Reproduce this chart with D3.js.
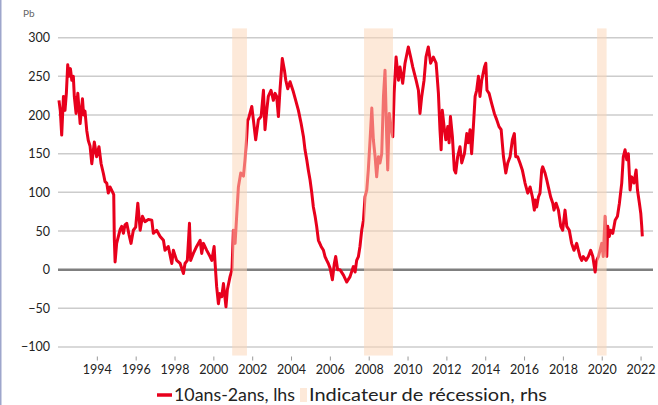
<html>
<head>
<meta charset="utf-8">
<title>10ans-2ans</title>
<script src="https://cdn.jsdelivr.net/npm/d3@7"></script>
<style type="text/css">
	body { margin: 0; background: #ffffff; }
	#chart { width: 658px; height: 405px; overflow: hidden; }
	text { font-family: Lato, "Open Sans", sans-serif; }
</style>
</head>
<body>
<div id="chart"></div>

<script type="text/javascript">

	// Spread 10ans-2ans (pb), dates as decimal years
	var spreadYears = [
		1992.05, 1992.12, 1992.19, 1992.28, 1992.36, 1992.43, 1992.50, 1992.57, 1992.64, 1992.71,
		1992.79, 1992.84, 1992.93, 1993.02, 1993.14, 1993.26, 1993.32, 1993.39, 1993.48, 1993.56,
		1993.65, 1993.74, 1993.87, 1993.99, 1994.11, 1994.22, 1994.34, 1994.42, 1994.51, 1994.59,
		1994.68, 1994.80, 1994.87, 1994.90, 1994.94, 1995.02, 1995.11, 1995.20, 1995.28, 1995.37,
		1995.45, 1995.54, 1995.66, 1995.76, 1995.88, 1996.00, 1996.11, 1996.23, 1996.35, 1996.48,
		1996.65, 1996.83, 1996.91, 1997.08, 1997.26, 1997.43, 1997.51, 1997.68, 1997.86, 1997.94,
		1998.11, 1998.29, 1998.46, 1998.54, 1998.66, 1998.77, 1998.83, 1998.97, 1999.14, 1999.32,
		1999.40, 1999.49, 1999.66, 1999.83, 1999.92, 2000.04, 2000.09, 2000.17, 2000.26, 2000.34,
		2000.43, 2000.52, 2000.65, 2000.72, 2000.86, 2000.96, 2001.03, 2001.12, 2001.20, 2001.29,
		2001.41, 2001.55, 2001.63, 2001.72, 2001.77, 2001.80, 2001.98, 2002.06, 2002.18, 2002.32,
		2002.46, 2002.58, 2002.66, 2002.75, 2002.83, 2002.97, 2003.09, 2003.18, 2003.26, 2003.35,
		2003.43, 2003.55, 2003.66, 2003.73, 2003.83, 2003.95, 2004.12, 2004.24, 2004.38, 2004.52,
		2004.64, 2004.72, 2004.81, 2004.89, 2004.98, 2005.07, 2005.15, 2005.24, 2005.32, 2005.41,
		2005.55, 2005.67, 2005.75, 2005.84, 2005.92, 2006.01, 2006.13, 2006.23, 2006.30, 2006.40,
		2006.52, 2006.70, 2006.87, 2007.04, 2007.21, 2007.30, 2007.38, 2007.47, 2007.55, 2007.64,
		2007.73, 2007.81, 2007.90, 2007.98, 2008.07, 2008.16, 2008.24, 2008.33, 2008.41, 2008.50,
		2008.58, 2008.67, 2008.76, 2008.84, 2008.93, 2008.98, 2009.06, 2009.13, 2009.24, 2009.31,
		2009.41, 2009.53, 2009.61, 2009.75, 2009.87, 2010.04, 2010.16, 2010.27, 2010.44, 2010.56,
		2010.64, 2010.73, 2010.85, 2010.95, 2011.07, 2011.19, 2011.33, 2011.47, 2011.50, 2011.59,
		2011.67, 2011.73, 2011.79, 2011.90, 2011.97, 2012.07, 2012.14, 2012.21, 2012.31, 2012.41,
		2012.48, 2012.58, 2012.70, 2012.79, 2012.93, 2013.05, 2013.13, 2013.22, 2013.30, 2013.39,
		2013.48, 2013.56, 2013.65, 2013.73, 2013.82, 2013.96, 2014.03, 2014.09, 2014.20, 2014.33,
		2014.47, 2014.59, 2014.71, 2014.82, 2014.94, 2015.06, 2015.16, 2015.28, 2015.40, 2015.50,
		2015.57, 2015.67, 2015.79, 2015.91, 2016.05, 2016.19, 2016.31, 2016.43, 2016.53, 2016.57,
		2016.65, 2016.74, 2016.82, 2016.91, 2016.96, 2017.08, 2017.17, 2017.25, 2017.37, 2017.48,
		2017.54, 2017.65, 2017.77, 2017.89, 2017.99, 2018.11, 2018.20, 2018.33, 2018.45, 2018.57,
		2018.71, 2018.80, 2018.88, 2018.97, 2019.05, 2019.19, 2019.31, 2019.43, 2019.54, 2019.66,
		2019.74, 2019.83, 2019.91, 2020.00, 2020.08, 2020.17, 2020.26, 2020.31, 2020.39, 2020.46,
		2020.57, 2020.69, 2020.81, 2020.91, 2021.03, 2021.11, 2021.20, 2021.29, 2021.37, 2021.46,
		2021.54, 2021.66, 2021.77, 2021.84, 2021.94, 2022.01, 2022.06, 2022.09
	];

	var spreadValues = [
		219, 205, 174, 224, 206, 228, 265, 250, 260, 245,
		250, 224, 202, 228, 189, 221, 200, 205, 180, 167,
		160, 137, 165, 146, 159, 137, 124, 114, 112, 99,
		107, 101, 97, 40, 10, 34, 43, 52, 56, 47,
		58, 60, 45, 34, 51, 55, 86, 51, 69, 62,
		65, 64, 47, 51, 43, 38, 25, 30, 8, 25,
		12, 8, -5, 8, 12, 60, 12, 21, 30, 38,
		21, 34, 25, 17, 12, 30, 8, -22, -44, -31,
		-35, -18, -48, -26, -9, 0, 51, 34, 69, 107,
		125, 121, 142, 172, 194, 194, 211, 194, 168, 194,
		198, 232, 181, 206, 224, 232, 219, 228, 224, 198,
		232, 273, 258, 245, 234, 243, 230, 219, 206, 189,
		172, 155, 142, 129, 116, 99, 81, 69, 56, 38,
		30, 25, 17, 12, 8, 2, -13, 8, 17, 0,
		0, -7, -16, -9, 4, -3, 12, 17, 30, 51,
		64, 94, 103, 129, 168, 209, 168, 146, 120, 146,
		138, 150, 224, 258, 168, 129, 202, 185, 172, 228,
		275, 245, 262, 241, 267, 288, 275, 262, 245, 232,
		202, 224, 245, 275, 288, 267, 275, 267, 258, 228,
		181, 155, 206, 181, 168, 185, 164, 198, 172, 129,
		125, 146, 159, 138, 150, 176, 164, 181, 150, 185,
		224, 232, 250, 224, 245, 262, 267, 232, 228, 215,
		202, 194, 185, 181, 146, 125, 138, 146, 168, 176,
		146, 146, 138, 129, 112, 99, 107, 94, 77, 90,
		81, 94, 99, 129, 133, 125, 116, 107, 94, 86,
		77, 86, 77, 56, 51, 77, 56, 51, 34, 25,
		34, 25, 17, 12, 17, 12, 17, 25, 17, -3,
		12, 17, 25, 34, 17, 69, 17, 56, 43, 51,
		47, 64, 69, 86, 112, 146, 155, 142, 150, 103,
		120, 112, 129, 103, 86, 73, 56, 43
	];

	// Recessions (indicateur = 1)
	var recessionStart = [2000.97, 2007.76, 2019.76];
	var recessionEnd = [2001.73, 2009.25, 2020.25];

	var yearTicks = [1994, 1996, 1998, 2000, 2002, 2004, 2006, 2008, 2010, 2012, 2014, 2016, 2018, 2020, 2022];
	var valueTicks = [-100, -50, 0, 50, 100, 150, 200, 250, 300];

	var legendLabels = ["10ans-2ans, lhs", "Indicateur de récession, rhs"];

	var width = 658, height = 405,
	    red = "#e8001c",
	    peach = "#fcd5b7";

	var svg = d3.select("#chart").append("svg").attr("width", width).attr("height", height);

	// Scales
	var x = d3.scaleLinear().domain([1992.0, 2022.64]).range([58, 653]);
	var y = d3.scaleLinear().domain([-111, 312]).range([355.5, 28.4]);
	var yr = d3.scaleLinear().domain([0, 1]).range([355.5, 28.4]);

	// Left border
	svg.append("rect").attr("x", 0).attr("y", 0).attr("width", 1.5).attr("height", height).attr("fill", "#9ea6cc");

	// Grid lines
	svg.append("g").selectAll("line").data(valueTicks.filter(function(d){ return d != 0; })).enter().append("line")
		.attr("x1", x.range()[0]).attr("x2", x.range()[1])
		.attr("y1", function(d){ return y(d); }).attr("y2", function(d){ return y(d); })
		.attr("stroke", "#cccccc").attr("stroke-width", 1.5);

	// Zero line
	svg.append("line")
		.attr("x1", x.range()[0]).attr("x2", x.range()[1])
		.attr("y1", y(0)).attr("y2", y(0))
		.attr("stroke", "#7f7f7f").attr("stroke-width", 2.5);

	// Left axis labels
	var yAxis = svg.append("g").attr("transform", "translate(50,0)")
		.call(d3.axisLeft(y).tickValues(valueTicks).tickSize(0).tickPadding(0));
	yAxis.select(".domain").remove();
	yAxis.selectAll("text").attr("font-size", 12.5).attr("fill", "#222").attr("font-family", "Lato, sans-serif");

	svg.append("text").attr("x", 23).attr("y", 17).attr("font-size", 10).attr("fill", "#666").text("Pb");

	// Bottom axis
	var xAxis = svg.append("g").attr("transform", "translate(0,356.5)")
		.call(d3.axisBottom(x).tickValues(yearTicks).tickFormat(d3.format("d")).tickSize(4).tickPadding(5));
	xAxis.select(".domain").remove();
	xAxis.selectAll("line").attr("stroke", "#999");
	xAxis.selectAll("text").attr("font-size", 12.5).attr("fill", "#222").attr("font-family", "Lato, sans-serif");

	// Spread line
	var line = d3.line()
		.x(function(d, i){ return x(spreadYears[i]); })
		.y(function(d){ return y(d); })
		.curve(d3.curveLinear);

	svg.append("path").datum(spreadValues)
		.attr("d", line)
		.attr("fill", "none")
		.attr("stroke", red)
		.attr("stroke-width", 3)
		.attr("stroke-linejoin", "round");

	// Recession shading (rhs, 0..1), on top of the line
	svg.append("g").selectAll("rect").data(recessionStart).enter().append("rect")
		.attr("x", function(d){ return x(d); })
		.attr("width", function(d, i){ return x(recessionEnd[i]) - x(d); })
		.attr("y", yr(1))
		.attr("height", yr(0) - yr(1))
		.attr("fill", peach)
		.attr("fill-opacity", 0.53);

	// Legend
	var legend = svg.append("g");
	legend.append("line").attr("x1", 157).attr("x2", 172).attr("y1", 395).attr("y2", 395)
		.attr("stroke", red).attr("stroke-width", 3.5);
	legend.append("text").attr("x", 174).attr("y", 401).attr("font-size", 18).attr("fill", "#222")
		.attr("textLength", 121).attr("lengthAdjust", "spacingAndGlyphs").text(legendLabels[0]);
	legend.append("rect").attr("x", 300).attr("y", 388).attr("width", 7).attr("height", 14)
		.attr("fill", peach).attr("fill-opacity", 0.53);
	legend.append("text").attr("x", 309).attr("y", 401).attr("font-size", 18).attr("fill", "#222")
		.attr("textLength", 238).attr("lengthAdjust", "spacingAndGlyphs").text(legendLabels[1]);

</script>
</body>
</html>
